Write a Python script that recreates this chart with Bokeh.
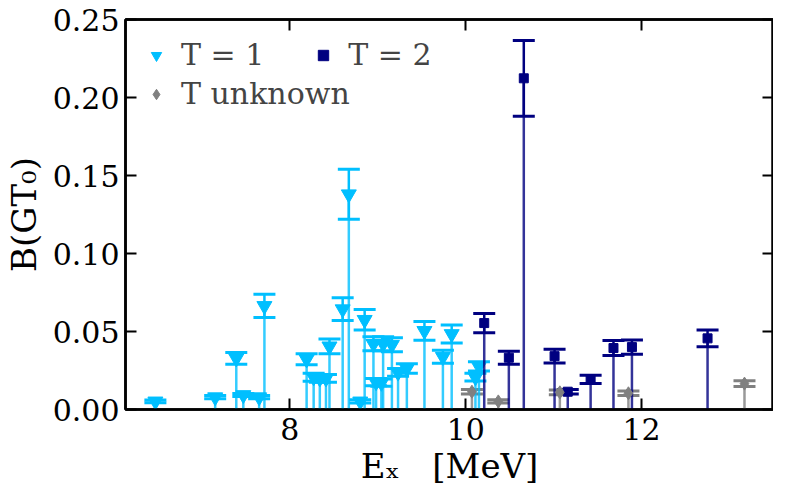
from bokeh.plotting import figure
from bokeh.models import (ColumnDataSource, Whisker, TeeHead, LinearAxis, FixedTicker,
                          NumeralTickFormatter, CustomJSTickFormatter, Legend, LegendItem, Range1d)
from bokeh.embed import file_html
from bokeh.resources import INLINE

# ---- data ----
x_t1 = [6.47, 7.15, 7.39, 7.47, 7.65, 7.71, 8.19, 8.27, 8.34, 8.41, 8.45, 8.60, 8.67, 8.80,
        8.85, 8.95, 8.98, 9.04, 9.06, 9.16, 9.23, 9.33, 9.53, 9.74, 9.84, 10.11, 10.15]
y_t1 = [0.0052, 0.0079, 0.0328, 0.0093, 0.0079, 0.0664, 0.0322, 0.0207, 0.0200, 0.0200,
        0.0405, 0.0643, 0.1380, 0.0052, 0.0575, 0.0421, 0.0176, 0.0172, 0.0421, 0.0415,
        0.0238, 0.0263, 0.0504, 0.0338, 0.0484, 0.0207, 0.0276]
e_t1 = [0.0009, 0.0010, 0.0038, 0.0010, 0.0010, 0.0075, 0.0035, 0.0026, 0.0025, 0.0025,
        0.0047, 0.0073, 0.0160, 0.0010, 0.0066, 0.0045, 0.0023, 0.0023, 0.0045, 0.0045,
        0.0025, 0.0030, 0.0060, 0.0042, 0.0058, 0.0025, 0.0030]

x_t2 = [10.21, 10.49, 10.66, 11.01, 11.16, 11.42, 11.68, 11.89, 12.75]
y_t2 = [0.0554, 0.0332, 0.2123, 0.0342, 0.0114, 0.0193, 0.0394, 0.0400, 0.0456]
e_t2 = [0.0062, 0.0042, 0.0243, 0.0044, 0.0015, 0.0026, 0.0048, 0.0046, 0.0054]

x_tu = [10.07, 10.37, 11.07, 11.85, 13.17]
y_tu = [0.0114, 0.0052, 0.0110, 0.0104, 0.0166]
e_tu = [0.0015, 0.0010, 0.0015, 0.0015, 0.0018]

labels = ["T = 1", "T = 2", "T unknown"]
x_ticks = [8, 10, 12]
y_ticks = [0.0, 0.05, 0.10, 0.15, 0.20, 0.25]

FONT = "DejaVu Serif"

p = figure(width=773, height=488, output_backend="svg", toolbar_location=None,
           x_range=Range1d(6.13, 13.5), y_range=Range1d(0, 0.25),
           min_border_left=108, min_border_right=0, min_border_top=19, min_border_bottom=70)
p.xgrid.visible = False
p.ygrid.visible = False
p.outline_line_color = "black"
p.outline_line_width = 2.5
p.background_fill_color = "white"


def style_axis(ax, ticks, labelled):
    ax.ticker = FixedTicker(ticks=ticks)
    ax.minor_tick_line_color = None
    ax.major_tick_in = 11
    ax.major_tick_out = 0
    ax.major_tick_line_width = 2
    ax.major_tick_line_color = "black"
    ax.axis_line_width = 2.5
    ax.axis_line_color = "black"
    if labelled:
        ax.major_label_text_font = FONT
        ax.major_label_text_font_size = "30px"
        ax.major_label_text_color = "black"
        ax.axis_label_text_font = FONT
        ax.axis_label_text_font_size = "34px"
        ax.axis_label_text_font_style = "normal"
        ax.axis_label_text_color = "black"
    else:
        ax.formatter = CustomJSTickFormatter(code="return ''")
        ax.major_label_standoff = 0
        ax.major_label_text_font_size = "0px"


xa = p.xaxis[0]
ya = p.yaxis[0]
style_axis(xa, x_ticks, True)
style_axis(ya, y_ticks, True)
xa.axis_label = "Eₓ\u00a0\u00a0\u00a0[MeV]"
ya.axis_label = "B(GT₀)"
ya.formatter = NumeralTickFormatter(format="0.00")
xa.major_label_standoff = 8
xa.axis_label_standoff = 3
ya.major_label_standoff = 6
ya.axis_label_standoff = 6

top = LinearAxis()
right = LinearAxis()
style_axis(top, x_ticks, False)
style_axis(right, y_ticks, False)
p.add_layout(top, "above")
p.add_layout(right, "right")

series = [
    (x_t1, y_t1, e_t1, "#00bfff", "inverted_triangle", 15),
    (x_t2, y_t2, e_t2, "#000080", "square", 9),
    (x_tu, y_tu, e_tu, "#808080", "diamond", 13),
]
marker_renderers = []
for xs, ys, es, color, marker, size in series:
    src = ColumnDataSource(dict(x=xs, y=ys,
                                lo=[a - b for a, b in zip(ys, es)],
                                hi=[a + b for a, b in zip(ys, es)]))
    p.segment(x0="x", y0=0, x1="x", y1="y", source=src, line_color=color,
              line_alpha=0.8, line_width=2.5)
    w = Whisker(source=src, base="x", lower="lo", upper="hi", dimension="height",
                line_color=color, line_width=2.5,
                upper_head=TeeHead(size=22, line_color=color, line_width=3),
                lower_head=TeeHead(size=22, line_color=color, line_width=3))
    p.add_layout(w)
    r = p.scatter("x", "y", source=src, marker=marker, size=size,
                  fill_color=color, line_color=color)
    marker_renderers.append(r)


def make_legend(items, location, orientation):
    lg = Legend(items=items, location=location, orientation=orientation,
                margin=18, padding=0, spacing=46 if orientation == "horizontal" else 8,
                glyph_width=26, glyph_height=34, label_standoff=12,
                label_text_font=FONT, label_text_font_size="30px",
                border_line_color=None, background_fill_alpha=0)
    return lg


leg1 = make_legend([LegendItem(label=labels[0], renderers=[marker_renderers[0]]),
                    LegendItem(label=labels[1], renderers=[marker_renderers[1]])],
                   "top_left", "horizontal")
leg2 = make_legend([LegendItem(label=labels[2], renderers=[marker_renderers[2]])],
                   (18, 298), "vertical")
p.add_layout(leg1)
p.add_layout(leg2)

open("out.html", "w").write(file_html(p, INLINE))
